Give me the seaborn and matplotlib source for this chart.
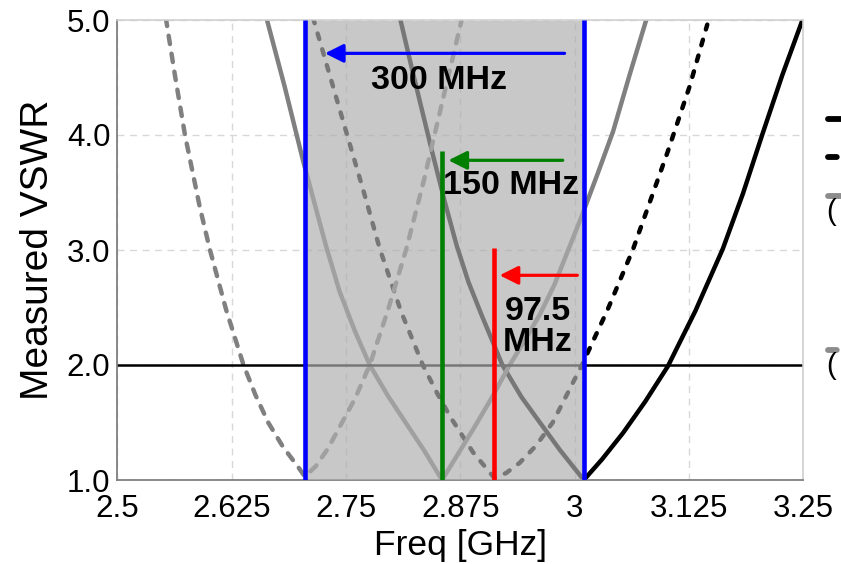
import numpy as np
import pandas as pd
import matplotlib
matplotlib.use("Agg")
import matplotlib.pyplot as plt
from matplotlib.lines import Line2D
import seaborn as sns

# ---------------- data ----------------
# Curve A: black solid (min at 3.01 GHz)
a_freq = [2.809, 2.822, 2.844, 2.858, 2.871, 2.884, 2.898, 2.921, 2.942, 2.962, 2.984, 3.010,
          3.030, 3.053, 3.077, 3.102, 3.132, 3.162, 3.184, 3.205, 3.227, 3.250]
a_vswr = [5.02, 4.58, 3.86, 3.42, 3.04, 2.72, 2.44, 2.00, 1.72, 1.50, 1.26, 1.00,
          1.18, 1.41, 1.68, 1.99, 2.47, 3.01, 3.49, 4.00, 4.52, 5.02]
# Curve B: black dashed (min at 2.9125 GHz)
b_freq = [2.714, 2.733, 2.752, 2.770, 2.787, 2.810, 2.834, 2.850, 2.864, 2.889, 2.912,
          2.925, 2.940, 2.958, 2.976, 3.008, 3.036, 3.064, 3.102, 3.126, 3.145]
b_vswr = [5.02, 4.50, 3.98, 3.49, 3.01, 2.47, 2.00, 1.75, 1.55, 1.24, 1.02,
          1.06, 1.15, 1.30, 1.50, 2.00, 2.48, 3.01, 3.86, 4.43, 4.96]
# Curve C: gray solid (min at 2.86 GHz)
c_freq = [2.663, 2.683, 2.703, 2.728, 2.743, 2.760, 2.776, 2.796, 2.816, 2.836, 2.855,
          2.872, 2.889, 2.909, 2.929, 2.946, 2.962, 2.978, 2.993, 3.008, 3.025, 3.042, 3.060, 3.079]
c_vswr = [5.02, 4.42, 3.78, 3.04, 2.64, 2.29, 2.00, 1.73, 1.49, 1.25, 1.00,
          1.22, 1.44, 1.71, 2.00, 2.22, 2.44, 2.70, 3.00, 3.30, 3.66, 4.03, 4.52, 5.02]
# Curve D: gray dashed (min at 2.71 GHz)
d_freq = [2.553, 2.563, 2.574, 2.590, 2.601, 2.619, 2.638, 2.651, 2.665, 2.681, 2.698, 2.705,
          2.717, 2.730, 2.743, 2.760, 2.776, 2.796, 2.816, 2.835, 2.853, 2.864, 2.877]
d_vswr = [5.02, 4.52, 4.00, 3.38, 3.01, 2.48, 2.00, 1.74, 1.50, 1.29, 1.11, 1.03,
          1.12, 1.27, 1.46, 1.71, 2.00, 2.48, 3.01, 3.60, 4.21, 4.58, 5.02]

band_lo, band_hi = 2.705, 3.0105          # shaded 300 MHz band (blue lines)
green_f, green_top = 2.855, 3.86           # 150 MHz marker
red_f, red_top = 2.912, 3.02               # 97.5 MHz marker
vswr_ref = 2.0

arrows = [  # (tail_x, tip_x, y, colour)
    (2.989, 2.727, 4.71, "#0000ff"),
    (2.987, 2.862, 3.78, "#007f00"),
    (3.003, 2.918, 2.78, "#ff0000"),
]
labels = [  # (x, y, text)
    (2.852, 4.47, "300 MHz"),
    (2.930, 3.56, "150 MHz"),
    (2.960, 2.33, "97.5\nMHz"),
]

x_ticks = [2.5, 2.625, 2.75, 2.875, 3.0, 3.125, 3.25]
x_ticklabels = ["2.5", "2.625", "2.75", "2.875", "3", "3.125", "3.25"]
y_ticks = [1.0, 2.0, 3.0, 4.0, 5.0]
y_ticklabels = ["1.0", "2.0", "3.0", "4.0", "5.0"]

# ---------------- figure ----------------
sns.set_theme(style="white")
plt.rcParams["font.family"] = ["Liberation Sans", "DejaVu Sans"]
plt.rcParams["text.color"] = "black"
plt.rcParams["axes.labelcolor"] = "black"

W, H = 841, 564
fig = plt.figure(figsize=(W / 100, H / 100), dpi=100)
ax = fig.add_axes([117.3 / W, 1 - 480 / H, (803.3 - 117.3) / W, 460 / H])

curve_styles = [
    (a_freq, a_vswr, "black", None),
    (b_freq, b_vswr, "black", (1.3, 2.4)),
    (c_freq, c_vswr, "#808080", None),
    (d_freq, d_vswr, "#808080", (1.9, 2.2)),
]
for f, v, col, dash in curve_styles:
    df = pd.DataFrame({"freq": f, "vswr": v})
    sns.lineplot(data=df, x="freq", y="vswr", ax=ax, color=col, lw=3.2,
                 sort=False, estimator=None, zorder=2)
    l = ax.lines[-1]
    l.set_solid_capstyle("round")
    l.set_solid_joinstyle("round")
    if dash is not None:
        l.set_dashes(dash)
        l.set_dash_capstyle("round")

ax.axhline(vswr_ref, color="black", lw=1.8, zorder=2)

# translucent shading over the curves
ax.axvspan(band_lo, band_hi, ymin=0, ymax=0.997, color="#afafaf", alpha=0.686, lw=0, zorder=3)

# marker lines
ax.vlines([band_lo, band_hi], 1.0, 5.0, color="#0000ff", lw=3.3, zorder=5)
ax.vlines([green_f], 1.0, green_top, color="#007f00", lw=3.3, zorder=5)
ax.vlines([red_f], 1.0, red_top, color="#ff0000", lw=3.3, zorder=5)

for tail, tip, y, col in arrows:
    ax.annotate("", xy=(tip, y), xytext=(tail, y),
                arrowprops=dict(arrowstyle="-|>", color=col, lw=2.3,
                                mutation_scale=28, shrinkA=0, shrinkB=0),
                zorder=6)
for x, y, t in labels:
    ax.text(x, y, t, ha="center", va="center", fontsize=24.5, fontweight="bold",
            color="black", zorder=7, linespacing=1.0)

ax.set_xlim(2.5, 3.25)
ax.set_ylim(1.0, 5.0)
ax.set_xticks(x_ticks)
ax.set_xticklabels(x_ticklabels)
ax.set_yticks(y_ticks)
ax.set_yticklabels(y_ticklabels)
ax.set_xticks(np.arange(2.5, 3.25, 0.03125), minor=True)
ax.set_yticks([1.5, 2.5, 3.5, 4.5], minor=True)
ax.tick_params(axis="both", which="major", direction="in", length=16, width=1.2,
               color="#7f7f7f", labelsize=22.5, labelcolor="black")
ax.tick_params(axis="both", which="minor", direction="in", length=8, width=1.0,
               color="#7f7f7f")
ax.tick_params(axis="x", which="major", pad=10)
ax.tick_params(axis="y", which="major", pad=5)
ax.tick_params(top=False, right=False, which="both")

ax.grid(True, which="major", linestyle=(0, (5, 4)), color="#d8d8d8", lw=1.0)
ax.set_axisbelow(True)

for s in ["left", "bottom"]:
    ax.spines[s].set_color("#7f7f7f")
    ax.spines[s].set_linewidth(1.3)
for s in ["top", "right"]:
    ax.spines[s].set_color("#cfcfcf")
    ax.spines[s].set_linewidth(1.2)

ax.set_xlabel("Freq [GHz]", fontsize=25.5, labelpad=4, color="black")
ax.set_ylabel("Measured VSWR", fontsize=28, labelpad=8, color="black")

# legend keys, clipped at the right edge of the figure (their labels lie outside)
legend_keys = [  # (y_px, colour, dashes)
    (119, "black", None),
    (157, "black", (1.5, 3.0)),
    (196, "#8c8c8c", None),
    (350, "#8c8c8c", (1.5, 3.0)),
]
for yy, col, dash in legend_keys:
    ln = Line2D([828 / W, 880 / W], [1 - yy / H] * 2, transform=fig.transFigure,
                color=col, lw=4.2, solid_capstyle="round", dash_capstyle="round")
    if dash is not None:
        ln.set_dashes(dash)
    fig.add_artist(ln)
for yy in (212, 366):
    fig.text(826 / W, 1 - yy / H, "(", fontsize=21, ha="left", va="center", color="black")

fig.savefig("out.png", dpi=100)
